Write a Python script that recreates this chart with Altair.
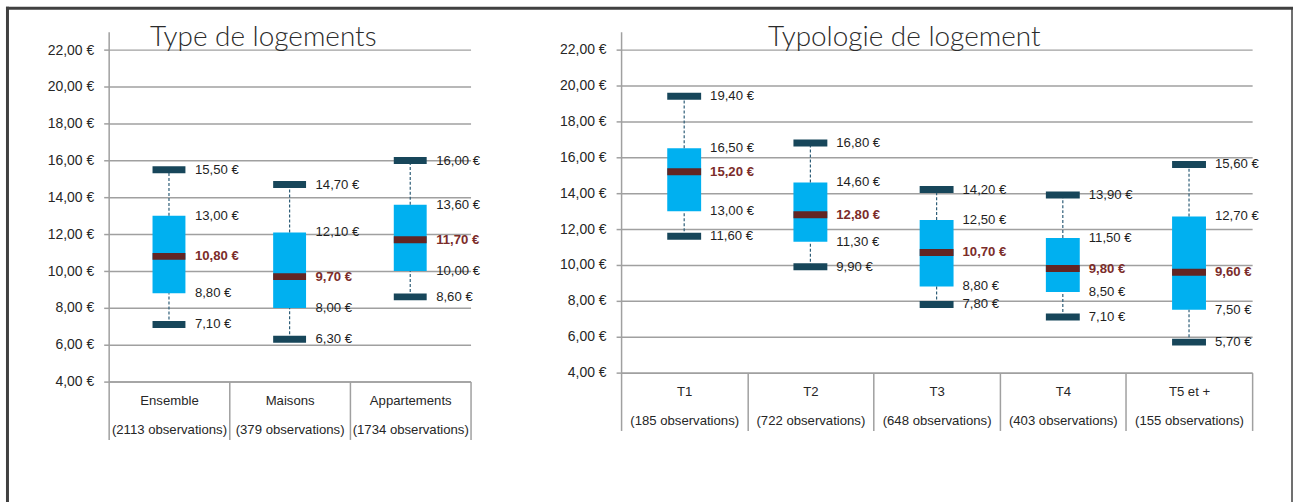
import altair as alt
import pandas as pd

# ---------------- data ----------------
title1 = "Type de logements"
cat1 = ["Ensemble", "Maisons", "Appartements"]
obs1 = [2113, 379, 1734]
min1 = [7.10, 6.30, 8.60]
q1_1 = [8.80, 8.00, 10.00]
med1 = [10.80, 9.70, 11.70]
q3_1 = [13.00, 12.10, 13.60]
max1 = [15.50, 14.70, 16.00]

title2 = "Typologie de logement"
cat2 = ["T1", "T2", "T3", "T4", "T5 et +"]
obs2 = [185, 722, 648, 403, 155]
min2 = [11.60, 9.90, 7.80, 7.10, 5.70]
q1_2 = [13.00, 11.30, 8.80, 8.50, 7.50]
med2 = [15.20, 12.80, 10.70, 9.80, 9.60]
q3_2 = [16.50, 14.60, 12.50, 11.50, 12.70]
max2 = [19.40, 16.80, 14.20, 13.90, 15.60]

y_ticks = [4, 6, 8, 10, 12, 14, 16, 18, 20, 22]
y_domain = [4, 23]

FONT = "Liberation Sans"
EURO = "replace(format({v}, '.2f'), '.', ',') + ' €'"


def make_df(cats, obs, mn, q1, med, q3, mx):
    labels = [f"{c}|({n} observations)" for c, n in zip(cats, obs)]
    wide = pd.DataFrame({"cat": labels, "min": mn, "q1": q1, "med": med, "q3": q3, "max": mx})
    long = wide.melt(id_vars="cat", var_name="stat", value_name="value")
    return labels, wide, long


def panel(cats, obs, mn, q1, med, q3, mx, width, height, title, title_x, box_size, label_dx):
    labels, wide, long = make_df(cats, obs, mn, q1, med, q3, mx)

    x_axis = alt.Axis(
        title=None, labelAngle=0, labelExpr="split(datum.label, '|')",
        tickBand="extent", tickSize=58, tickColor="#A0A0A0", tickWidth=1.5,
        domainColor="#A0A0A0", domainWidth=1.5, labelPadding=-45,
        labelLineHeight=29.5, labelFontSize=13.2, labelFont=FONT, labelColor="#262626",
        labelBaseline="top",
    )
    xscale = alt.Scale(paddingInner=0, paddingOuter=0)
    yscale = alt.Scale(domain=y_domain, nice=False, zero=False)
    y_axis = alt.Axis(
        title=None, values=y_ticks, labelExpr=EURO.format(v="datum.value"),
        grid=True, gridColor="#A0A0A0", gridWidth=1.5, tickSize=5, tickColor="#A0A0A0",
        tickWidth=1.5, domainColor="#A0A0A0", domainWidth=1.5, labelPadding=10,
        labelFontSize=14, labelFont=FONT, labelColor="#262626",
    )

    def X():
        return alt.X("cat:N", sort=labels, scale=xscale, axis=x_axis, title=None)

    def Y(field):
        return alt.Y(f"{field}:Q", scale=yscale, axis=y_axis, title=None)

    base = alt.Chart(wide)
    box = base.mark_bar(size=box_size, color="#00B0F0").encode(x=X(), y=Y("q1"), y2="q3:Q")
    whisk_hi = base.mark_rule(color="#2E5E78", strokeWidth=1.2, strokeDash=[3, 2]).encode(
        x=X(), y=Y("q3"), y2="max:Q")
    whisk_lo = base.mark_rule(color="#2E5E78", strokeWidth=1.2, strokeDash=[3, 2]).encode(
        x=X(), y=Y("min"), y2="q1:Q")
    cap_hi = base.mark_tick(size=box_size, thickness=7, color="#17465A", opacity=1).encode(
        x=X(), y=Y("max"))
    cap_lo = base.mark_tick(size=box_size, thickness=7, color="#17465A", opacity=1).encode(
        x=X(), y=Y("min"))
    median = base.mark_tick(size=box_size, thickness=7, color="#632523", opacity=1).encode(
        x=X(), y=Y("med"))

    lab = alt.Chart(long).transform_calculate(txt=EURO.format(v="datum.value"))
    txt_norm = lab.transform_filter("datum.stat != 'med'").mark_text(
        align="left", baseline="middle", dx=label_dx, fontSize=13.2, font=FONT, color="#1F1F1F"
    ).encode(x=X(), y=Y("value"), text="txt:N")
    txt_med = lab.transform_filter("datum.stat == 'med'").mark_text(
        align="left", baseline="middle", dx=label_dx, fontSize=13.2, font=FONT,
        fontWeight="bold", color="#7B2C2A"
    ).encode(x=X(), y=Y("value"), text="txt:N")

    ttl = alt.Chart(pd.DataFrame({"t": [title]})).mark_text(
        font="Lato", fontSize=28, fontWeight=300, color="#2B2B2B",
        align="center", baseline="alphabetic",
    ).encode(x=alt.value(title_x), y=alt.value(14), text="t:N")

    layers = [box, whisk_hi, whisk_lo, cap_hi, cap_lo, median, txt_norm, txt_med, ttl]
    return layers, dict(width=width, height=height)


l1, p1 = panel(cat1, obs1, min1, q1_1, med1, q3_1, max1, 363, 351, title1, 155, 33, 26)
l2, p2 = panel(cat2, obs2, min2, q1_2, med2, q3_2, max2, 633, 342, title2, 284, 34, 26)

# outer frame of the picture (decoration); it also sets the overall bounds
one = alt.Chart(pd.DataFrame({"k": [0]}))
frame_top = one.mark_rule(color="#404040", strokeWidth=3).encode(
    x=alt.value(-103), x2=alt.value(1188), y=alt.value(-23.5))
frame_left = one.mark_rule(color="#404040", strokeWidth=3).encode(
    x=alt.value(-101.5), y=alt.value(-25), y2=alt.value(472))
frame_right = one.mark_rule(color="#404040", strokeWidth=1.5).encode(
    x=alt.value(1187), y=alt.value(-23.5), y2=alt.value(472))

left = alt.layer(*l1, frame_top, frame_left, frame_right).properties(**p1)
right = alt.layer(*l2).properties(**p2)

chart = alt.hconcat(left, right, spacing=151, bounds="flush").properties(
    padding={"left": 4, "top": 4, "right": 0, "bottom": 0},
    background="white",
).configure_view(strokeWidth=0)

chart.save("out.html", embed_options={"renderer": "svg", "actions": False})
